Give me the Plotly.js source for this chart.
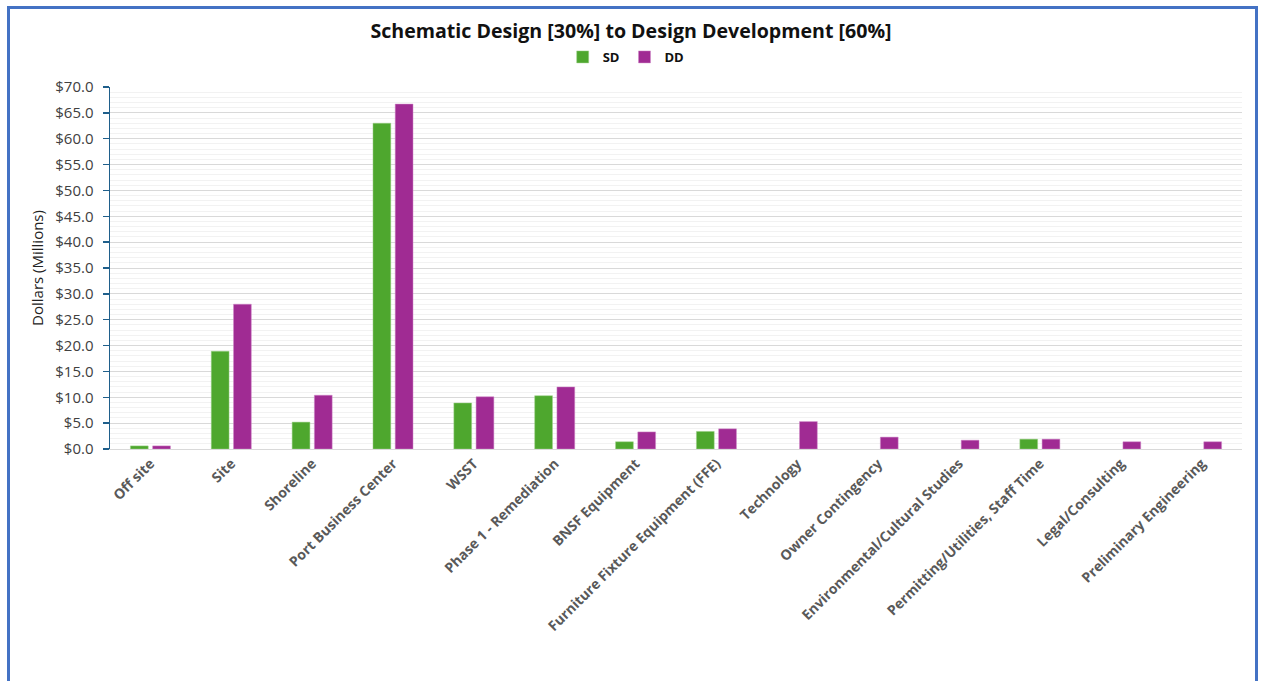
<!DOCTYPE html>
<html>
<head>
<meta charset="utf-8">
<script src="https://cdn.plot.ly/plotly-3.0.1.min.js"></script>
<style>
  html, body { margin: 0; padding: 0; background: #fff; overflow: hidden; }
  #chart { width: 1262px; height: 681px; }
  #frame { position: absolute; left: 7px; top: 6px; width: 1245px; height: 700px;
           border: 3px solid #4472C4; pointer-events: none; }
</style>
</head>
<body>
<div id="chart"></div>
<div id="frame"></div>
<script>
const categories = [
  "Off site", "Site", "Shoreline", "Port Business Center", "WSST",
  "Phase 1 - Remediation", "BNSF Equipment", "Furniture Fixture Equipment (FFE)",
  "Technology", "Owner Contingency", "Environmental/Cultural Studies",
  "Permitting/Utilities, Staff Time", "Legal/Consulting", "Preliminary Engineering"
];
const sdValues = [0.6, 18.9, 5.2, 63.0, 8.9, 10.3, 1.4, 3.4, null, null, null, 1.9, null, null];
const ddValues = [0.6, 28.0, 10.4, 66.7, 10.1, 12.0, 3.3, 3.9, 5.3, 2.3, 1.7, 1.9, 1.4, 1.4];
const yTickVals = [0, 5, 10, 15, 20, 25, 30, 35, 40, 45, 50, 55, 60, 65, 70];
const yTickText = yTickVals.map(v => "$" + v.toFixed(1));

const font = "Open Sans, Noto Sans, sans-serif";

const traces = [
  { type: "bar", name: "SD", x: categories, y: sdValues,
    marker: { color: "#4EA72E", line: { color: "#9fd08a", width: 0.5 } } },
  { type: "bar", name: "DD", x: categories, y: ddValues,
    marker: { color: "#A02B93", line: { color: "#d08ac8", width: 0.5 } } }
];

const layout = {
  width: 1262, height: 681,
  margin: { l: 110, r: 20, t: 87, b: 232, autoexpand: false },
  paper_bgcolor: "#ffffff", plot_bgcolor: "#ffffff",
  font: { family: font, color: "#404040" },
  title: {
    text: "<b>Schematic Design [30%] to Design Development [60%]</b>",
    font: { family: font, size: 19.6, color: "#111111" },
    x: 0.5, xanchor: "center", xref: "container",
    y: 1 - 31 / 681, yanchor: "middle", yref: "container"
  },
  showlegend: true,
  legend: {
    orientation: "h", xref: "paper", x: 0.456, xanchor: "center", y: 1.083, yanchor: "middle",
    font: { family: font, size: 13, color: "#111111", weight: "bold" },
    itemwidth: 30, traceorder: "normal"
  },
  barmode: "group", bargap: 0.45, bargroupgap: 0.2,
  xaxis: {
    type: "category", tickangle: -45,
    tickfont: { family: font, size: 14, color: "#595959", weight: "bold" },
    showline: true, linecolor: "#d9d9d9", linewidth: 1,
    ticks: "", showgrid: false, automargin: false
  },
  yaxis: {
    range: [0, 70], tickvals: yTickVals, ticktext: yTickText,
    tickfont: { family: font, size: 15, color: "#404040" },
    showline: true, linecolor: "#1F5F8B", linewidth: 1.5,
    ticks: "outside", ticklen: 6, tickcolor: "#1F5F8B", tickwidth: 1.5,
    ticklabelstandoff: 6,
    showgrid: true, gridcolor: "#d9d9d9", gridwidth: 1,
    zeroline: false,
    minor: { dtick: 1, showgrid: true, gridcolor: "#f2f2f2", gridwidth: 1, ticks: "" },
    title: { text: "Dollars (Millions)", font: { family: font, size: 15, color: "#222222" }, standoff: 8 },
    automargin: false
  }
};

Plotly.newPlot("chart", traces, layout, { displayModeBar: false, staticPlot: true });
</script>
</body>
</html>
